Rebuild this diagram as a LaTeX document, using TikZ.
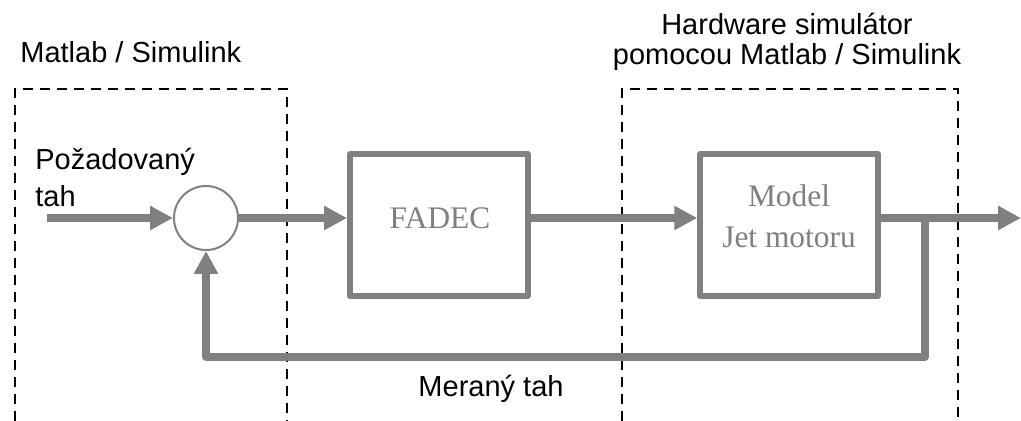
\documentclass[tikz,border=0pt]{standalone}
\usepackage{fontspec}
\usepackage{xcolor}
\setmainfont{Liberation Sans}
\newfontfamily\blockfont{Liberation Serif}
\usetikzlibrary{arrows.meta}
\definecolor{flowgray}{HTML}{808080}
\definecolor{textgray}{HTML}{7f7f7f}
\begin{document}
\begin{tikzpicture}[x=0.5pt,y=-0.5pt,
  flow/.style={draw=flowgray,line width=3.6pt,line join=round,
    -{Triangle[length=11.5pt,width=11.5pt]}},
  block/.style={draw=flowgray,line width=3pt,line join=round,
    minimum width=88.75pt,minimum height=71pt,inner sep=0pt},
  blocktext/.style={text=textgray,font=\blockfont\fontsize{15.7}{20.5}\selectfont,
    align=center,inner sep=0pt},
  label/.style={font=\fontsize{14.5}{15}\selectfont,inner sep=0pt},
  zone/.style={draw=black,line width=1pt,dash pattern=on 5pt off 3.5pt}]
\useasboundingbox (0,0) rectangle (1021,421);
% zones
\draw[zone] (15,421) |- (287,89) -- (287,421);
\draw[zone] (622,421) |- (958,89) -- (958,421);
\node[label,anchor=base west] (matlab) at (20,63) {Matlab / Simulink};
\node[label,anchor=base,align=center] (hwsim) at (787,65)
  {Hardware simulátor\\pomocou Matlab / Simulink};
% blocks
\node[draw=flowgray,line width=1pt,circle,minimum size=32pt,inner sep=0pt] (sum) at (206,218) {};
\node[block] (fadec) at (438.75,225) {};
\node[blocktext] (fadectext) at (440,218) {FADEC};
\node[block] (model) at (789,225) {};
\node[blocktext] (modeltext) at (789,216) {Model\\Jet motoru};
% signals
\coordinate (in) at (47,218);
\coordinate (branch) at (925,218);
\coordinate (fb) at (925,357);
\coordinate (out) at (1021,218);
\node[label,anchor=base west,align=left,font=\fontsize{14.5}{18.5}\selectfont] (ref) at (35,207)
  {Požadovaný\\tah};
\draw[flow] (in) -- (sum.west);
\draw[flow] (sum.east) -- (sum.east -| fadec.west);
\draw[flow] (sum -| fadec.east) -- (sum -| model.west);
\draw[flow] (sum -| model.east) -- (out);
\draw[flow] (branch) -- (fb) -| (sum.south);
\node[label,anchor=base] (meas) at (491,397) {Meraný tah};
\end{tikzpicture}
\end{document}
